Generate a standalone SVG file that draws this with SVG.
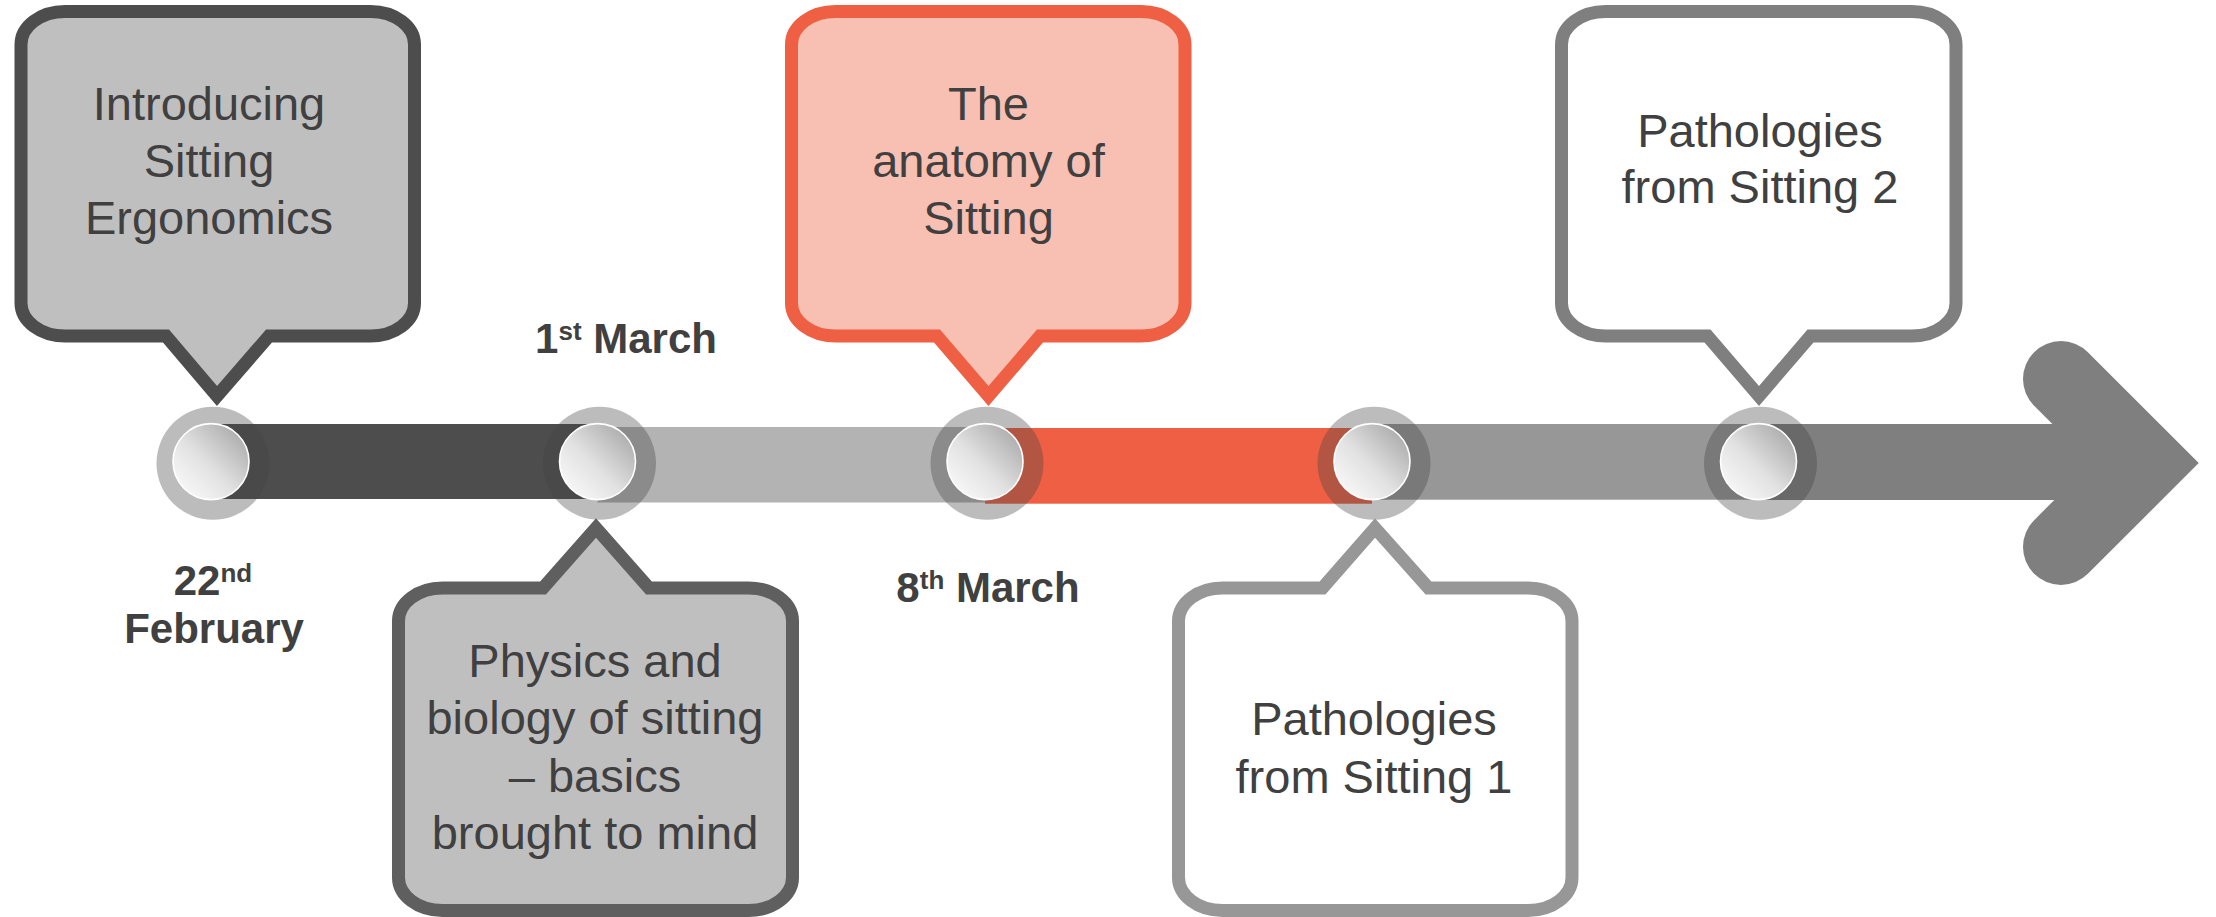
<svg xmlns="http://www.w3.org/2000/svg" width="2216" height="917" viewBox="0 0 2216 917">
<defs>
<linearGradient id="knob" x1="0" y1="1" x2="1" y2="0">
<stop offset="0" stop-color="#ffffff"/>
<stop offset="0.45" stop-color="#e2e2e2"/>
<stop offset="1" stop-color="#9e9e9e"/>
</linearGradient>
</defs>
<style>
.txt{font-family:"Liberation Sans",Arial,sans-serif;font-size:47px;fill:#404040;text-anchor:middle}
.date{font-family:"Liberation Sans",Arial,sans-serif;font-size:42px;font-weight:bold;fill:#404040;text-anchor:middle}
.sup{font-size:26px}
.callout{stroke-width:13;stroke-linejoin:miter}
.ring{fill:#424242;fill-opacity:0.355}
.knob{fill:url(#knob);stroke:#ffffff;stroke-width:1.6}
</style>
<rect width="2216" height="917" fill="#ffffff"/>

<g id="connectors">
<rect x="211" y="424" width="386.5" height="75" fill="#4d4d4d"/>
<rect x="597.5" y="427" width="387.5" height="75.5" fill="#b3b3b3"/>
<rect x="985" y="428" width="387" height="75.7" fill="#ef5f44"/>
<rect x="1372" y="424" width="386.5" height="75.7" fill="#979797"/>
<rect x="1758.5" y="424" width="386.5" height="76" fill="#7f7f7f"/>
<polyline points="2061,379 2145,463 2061,547" fill="none" stroke="#7f7f7f" stroke-width="76" stroke-linecap="round" stroke-linejoin="miter" stroke-miterlimit="4"/>
</g>

<g id="milestone-1"><circle class="ring" cx="213" cy="463.3" r="56.5"/><circle class="knob" cx="211" cy="461.6" r="38"/></g>
<g id="milestone-2"><circle class="ring" cx="599.5" cy="463.3" r="56.5"/><circle class="knob" cx="597.5" cy="461.6" r="38"/></g>
<g id="milestone-3"><circle class="ring" cx="987" cy="463.3" r="56.5"/><circle class="knob" cx="985" cy="461.6" r="38"/></g>
<g id="milestone-4"><circle class="ring" cx="1374" cy="463.3" r="56.5"/><circle class="knob" cx="1372" cy="461.6" r="38"/></g>
<g id="milestone-5"><circle class="ring" cx="1760.5" cy="463.3" r="56.5"/><circle class="knob" cx="1758.5" cy="461.6" r="38"/></g>

<g id="callout-introducing">
<path class="callout" fill="#bfbfbf" stroke="#4d4d4d" d="M65,11.5 H370.5 A44 33 0 0 1 414.5,44.5 V303 A44 33 0 0 1 370.5,336 H269 L217,396 L166,336 H65 A44 33 0 0 1 21,303 V44.5 A44 33 0 0 1 65,11.5 Z"/>
<text class="txt" x="209" y="119.5">Introducing</text>
<text class="txt" x="209" y="176.5">Sitting</text>
<text class="txt" x="209" y="234">Ergonomics</text>
</g>

<g id="callout-physics">
<path class="callout" fill="#bfbfbf" stroke="#5f5f5f" d="M442.5,588 H543 L596,528 L649,588 H748.5 A44 33 0 0 1 792.5,621 V877.5 A44 33 0 0 1 748.5,910.5 H442.5 A44 33 0 0 1 398.5,877.5 V621 A44 33 0 0 1 442.5,588 Z"/>
<text class="txt" x="595" y="676.7">Physics and</text>
<text class="txt" x="595" y="733.5">biology of sitting</text>
<text class="txt" x="595" y="791.5">– basics</text>
<text class="txt" x="595" y="849.3">brought to mind</text>
</g>

<g id="callout-anatomy">
<path class="callout" fill="#f8bfb3" stroke="#ef5f44" d="M835.5,11.5 H1141 A44 33 0 0 1 1185,44.5 V303 A44 33 0 0 1 1141,336 H1040 L988.5,396 L937,336 H835.5 A44 33 0 0 1 791.5,303 V44.5 A44 33 0 0 1 835.5,11.5 Z"/>
<text class="txt" x="988.5" y="119.5">The</text>
<text class="txt" x="988.5" y="176.5">anatomy of</text>
<text class="txt" x="988.5" y="234">Sitting</text>
</g>

<g id="callout-pathologies-1">
<path class="callout" fill="#ffffff" stroke="#979797" d="M1222.5,588 H1322.5 L1375,528 L1428.5,588 H1528 A44 33 0 0 1 1572,621 V877.5 A44 33 0 0 1 1528,910.5 H1222.5 A44 33 0 0 1 1178.5,877.5 V621 A44 33 0 0 1 1222.5,588 Z"/>
<text class="txt" x="1374" y="735">Pathologies</text>
<text class="txt" x="1374" y="793">from Sitting 1</text>
</g>

<g id="callout-pathologies-2">
<path class="callout" fill="#ffffff" stroke="#7f7f7f" d="M1605.5,11.5 H1912 A44 33 0 0 1 1956,44.5 V303 A44 33 0 0 1 1912,336 H1810.5 L1759,396 L1707.5,336 H1605.5 A44 33 0 0 1 1561.5,303 V44.5 A44 33 0 0 1 1605.5,11.5 Z"/>
<text class="txt" x="1760" y="146.7">Pathologies</text>
<text class="txt" x="1760" y="203.3">from Sitting 2</text>
</g>

<g id="date-22-february">
<text class="date" x="213" y="595">22<tspan class="sup" dy="-13">nd</tspan></text>
<text class="date" x="214" y="643.3">February</text>
</g>
<g id="date-1-march">
<text class="date" x="626" y="352.7">1<tspan class="sup" dy="-13">st</tspan><tspan dy="13"> March</tspan></text>
</g>
<g id="date-8-march">
<text class="date" x="988" y="601.7">8<tspan class="sup" dy="-13">th</tspan><tspan dy="13"> March</tspan></text>
</g>
</svg>
